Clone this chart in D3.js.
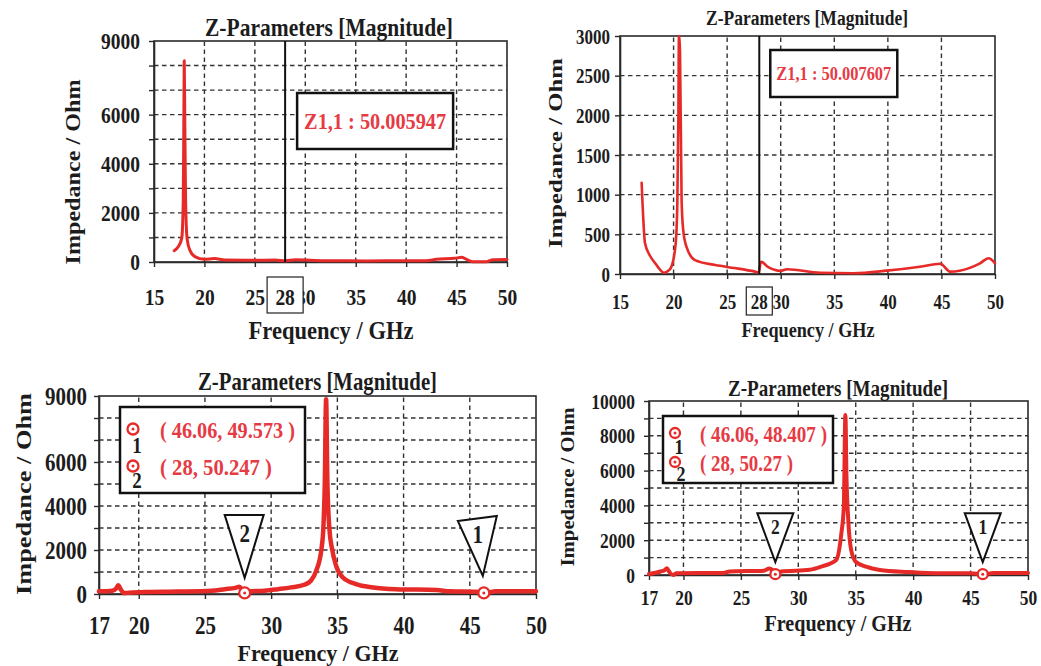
<!DOCTYPE html>
<html><head><meta charset="utf-8">
<script src="https://cdn.jsdelivr.net/npm/d3@7"></script>
<style>
body{margin:0;background:#fff}
</style>
</head><body>
<svg id="c" width="1041" height="666"></svg>
<script>
// ---------- DATA ----------
const titleText = "Z-Parameters [Magnitude]";
const xAxisText = "Frequency / GHz";
const yAxisText = "Impedance / Ohm";

const xTicksA = [15, 20, 25, 30, 35, 40, 45, 50];
const xTicksB = [17, 20, 25, 30, 35, 40, 45, 50];
const yLabels1 = [0, 2000, 4000, 6000, 9000];
const yLabels2 = [0, 500, 1000, 1500, 2000, 2500, 3000];
const yLabels3 = [0, 2000, 4000, 6000, 9000];
const yLabels4 = [0, 2000, 4000, 6000, 8000, 10000];

const cursorFreq = 28;
const p1Readout = "Z1,1 : 50.005947";
const p2Readout = "Z1,1 : 50.007607";

const p1Freq = [17.0, 17.4, 17.75, 17.9, 17.97, 18.0, 18.05, 18.12, 18.2, 18.3, 18.55, 19.05, 20.0, 21.0, 22.0, 25.0, 27.0, 28.0, 29.0, 30.5, 32.0, 36.0, 40.0, 42.0, 43.0, 44.8, 45.5, 46.2, 46.6, 48.0, 48.6, 50.0];
const p1Z    = [460,  620,  960,  2500, 6500,  8200, 6000,  2900,  1500, 900,  490,   220,   110,  140,  80,   70,   80,   50,   90,   70,   50,   45,   50,   50,   110,  150,  190,  60,   15,   15,   90,   100];

const p2Freq = [17.02, 17.1, 17.33, 17.8, 18.27, 18.7, 19.1, 19.5, 19.8, 20.2, 20.35, 20.45, 20.5, 20.6, 20.75, 20.9, 21.2, 22.0, 23.9, 25.7, 27.6, 27.95, 28.15, 28.8, 30.0, 30.6, 33.7, 36.8, 39.9, 43.0, 44.9, 45.8, 46.7, 48.6, 49.4, 50.0];
const p2Z    = [1150,  900,  390,   230,  139,   60,   15,   40,   92,   390,  890,   2000,  3000, 2800, 930,   555,  345,  175,  113,  75,   30,   20,    155,   90,   40,   60,   15,   10,   42,   92,   130,  30,   42,   135,  198,  135];

const p3Freq = [17.0, 18.0, 18.3, 18.45, 18.65, 18.9, 19.3, 20.5, 23.0, 25.5, 26.5, 27.3, 27.6, 27.8, 28.0, 28.3, 29.5, 30.5, 31.5, 32.5, 33.0, 33.4, 33.8, 33.95, 34.05, 34.15, 34.25, 34.4, 34.6, 34.9, 35.4, 36.4, 37.7, 39.4, 42.5, 43.5, 45.5, 46.06, 47.0, 50.0];
const p3Z    = [120,  150,  250,  400,   200,   40,   60,   90,   110,  150,  220,  280,  330,  200,  50,   120,  150,  220,  300,  420,  600,  1050, 2050, 3100,  5000,  8850,  5000,  2950, 2050, 1290, 760,  450,  300,  220,  180,  120,  100,  50,    120,  130];

const p4Freq = [17.0, 18.0, 18.4, 18.55, 18.8, 19.1, 19.4, 23.5, 24.0, 27.0, 27.5, 27.8, 28.0, 28.5, 31.0, 32.0, 33.3, 33.75, 33.96, 34.1, 34.2, 34.35, 34.6, 35.0, 35.9, 37.1, 39.6, 42.0, 45.0, 46.06, 47.0, 50.0];
const p4Z    = [60,   200,  300,  385,   150,  0,    100,  120,  200,  250,  380,  250,  50,   200,  300,  480,  860,  2400,  3900,  9200, 5500, 3160,  1440, 765,  480,  290,  170,  100,  100,  48,    110,  120];

const p3MarkerId = ["1", "2"];
const p3MarkerF  = [46.06, 28];
const p3MarkerZ  = [49.573, 50.247];
const p4MarkerId = ["1", "2"];
const p4MarkerF  = [46.06, 28];
const p4MarkerZ  = [48.407, 50.27];

// ---------- DRAWING ----------
const svg = d3.select("#c");
const SY = 1.2;
const FONT = "Liberation Serif";
const RED = "#e52a28";
const TXTRED = "#e63a44";
const INK = "#1c1c1c";

function sText(g, x, y, str, size, o = {}) {
  const t = g.append("text")
    .attr("transform", `translate(${x},${y}) scale(1,${o.sy || SY})`)
    .attr("text-anchor", o.anchor || "middle")
    .attr("dominant-baseline", "central")
    .attr("font-family", FONT).attr("font-weight", "bold")
    .attr("font-size", size)
    .attr("fill", o.fill || INK)
    .text(str);
  if (o.len) t.attr("textLength", o.len).attr("lengthAdjust", "spacingAndGlyphs");
  return t;
}

const panels = [
  { freq: p1Freq, z: p1Z, xDom: [15, 50], yDom: [0, 9000], yStep: 1000, xr: [154, 507], yr: [262, 41],
    xTicks: xTicksA, yLabels: yLabels1, tf: 19.5, yOff: 14, xOff: 35, lw: 3,
    title: [329, 27, 21.5, 248], xT: [331, 330, 21, 165], yT: [72, 172, 22, 185],
    readout: p1Readout, readBox: [12, 52, 156, 56], readFont: 20, readLen: 142, cBox: [36, 36, 33] },
  { freq: p2Freq, z: p2Z, xDom: [15, 50], yDom: [0, 3000], yStep: 500, xr: [620, 995], yr: [274, 36],
    xTicks: xTicksA, yLabels: yLabels2, tf: 17, yOff: 10, xOff: 28, lw: 2.6,
    title: [807, 18, 17.5, 202], xT: [808, 329, 18, 133], yT: [555, 153, 19, 190],
    readout: p2Readout, readBox: [11, 14, 127, 47], readFont: 16.5, readLen: 115, cBox: [26, 28, 27] },
  { freq: p3Freq, z: p3Z, xDom: [17, 50], yDom: [0, 9000], yStep: 1000, xr: [99, 536], yr: [594, 396],
    xTicks: xTicksB, yLabels: yLabels3, tf: 21, yOff: 12, xOff: 31, lw: 4.5,
    title: [317.5, 382, 20.8, 239], xT: [318, 653, 20, 161], yT: [23, 494, 22, 202],
    markers: { id: p3MarkerId, f: p3MarkerF, z: p3MarkerZ }, mr: 5.5,
    tri: [ { tl: [-26, -72], tr: [13, -77], ap: [-1, -17], lb: [-6, -59] },
           { tl: [-20, -78], tr: [19, -78], ap: [0, -15], lb: [0, -60] } ],
    leg: { dx: 21, dy: 11, w: 185, h: 86, sx: 13, rows: [22, 59], tx: 40, font: 20, lens: [135, 112],
           num: [[4, 16], [4, 14]] } },
  { freq: p4Freq, z: p4Z, xDom: [17, 50], yDom: [0, 10000], yStep: 1000, xr: [649, 1028], yr: [575, 401],
    xTicks: xTicksB, yLabels: yLabels4, tf: 17.5, yOff: 14, xOff: 23, lw: 4,
    title: [838, 388, 19, 220], xT: [838, 623, 20, 147], yT: [568, 487, 18, 159],
    markers: { id: p4MarkerId, f: p4MarkerF, z: p4MarkerZ }, mr: 5,
    tri: [ { tl: [-18, -61], tr: [18, -61], ap: [0, -12], lb: [0, -47] },
           { tl: [-18, -61], tr: [18, -61], ap: [0, -12], lb: [0, -47] } ],
    leg: { dx: 14, dy: 15, w: 170, h: 67, sx: 12, rows: [17, 46], tx: 37, font: 19, lens: [127, 93],
           num: [[4, 13], [6, 11]] } }
];

function markerSymbol(g, cx, cy, r) {
  g.append("circle").attr("cx", cx).attr("cy", cy).attr("r", r)
    .attr("fill", "#fff").attr("stroke", RED).attr("stroke-width", 2.3);
  g.append("circle").attr("cx", cx).attr("cy", cy).attr("r", 1.5).attr("fill", RED);
}

panels.forEach(c => {
  const g = svg.append("g");
  const x = d3.scaleLinear().domain(c.xDom).range(c.xr);
  const y = d3.scaleLinear().domain(c.yDom).range(c.yr);
  const grid = d3.range(c.yDom[0], c.yDom[1] + 1, c.yStep);

  g.selectAll(".vg").data(c.xTicks.slice(1, -1)).join("line")
    .attr("x1", d => x(d)).attr("x2", d => x(d)).attr("y1", c.yr[0]).attr("y2", c.yr[1])
    .attr("stroke", "#333").attr("stroke-width", 1.4).attr("stroke-dasharray", "4.5,3.5");
  g.selectAll(".hg").data(grid.slice(1, -1)).join("line")
    .attr("x1", c.xr[0]).attr("x2", c.xr[1]).attr("y1", d => y(d)).attr("y2", d => y(d))
    .attr("stroke", "#333").attr("stroke-width", 1.4).attr("stroke-dasharray", "4.5,3.5");

  g.append("rect").attr("x", c.xr[0]).attr("y", c.yr[1])
    .attr("width", c.xr[1] - c.xr[0]).attr("height", c.yr[0] - c.yr[1])
    .attr("fill", "none").attr("stroke", "#2a2a2a").attr("stroke-width", 1.6);

  const xa = g.append("g").attr("transform", `translate(0,${c.yr[0]})`)
    .call(d3.axisBottom(x).tickValues(c.xTicks).tickSize(5).tickSizeOuter(0).tickFormat(d3.format("d")));
  const ya = g.append("g").attr("transform", `translate(${c.xr[0]},0)`)
    .call(d3.axisLeft(y).tickValues(grid).tickSize(5).tickSizeOuter(0)
      .tickFormat(d => c.yLabels.includes(d) ? d3.format("d")(d) : ""));
  [xa, ya].forEach(a => {
    a.attr("font-family", FONT).attr("font-size", c.tf);
    a.select(".domain").attr("stroke", "#2a2a2a").attr("stroke-width", 1.6);
    a.selectAll(".tick line").attr("stroke", "#2a2a2a").attr("stroke-width", 1.4);
    a.selectAll("text").attr("font-family", FONT).attr("font-weight", "bold")
      .attr("font-size", c.tf).attr("fill", INK)
      .attr("dominant-baseline", "central").attr("dy", null);
  });
  xa.selectAll("text").attr("y", null).attr("transform", `translate(0,${c.xOff}) scale(1,${SY})`);
  ya.selectAll("text").attr("x", null).attr("transform", `translate(${-c.yOff},0) scale(1,${SY})`)
    .attr("text-anchor", "end");

  sText(g, c.title[0], c.title[1], titleText, c.title[2], { len: c.title[3] });
  sText(g, c.xT[0], c.xT[1], xAxisText, c.xT[2], { len: c.xT[3] });
  g.append("text")
    .attr("transform", `translate(${c.yT[0]},${c.yT[1]}) rotate(-90)`)
    .attr("text-anchor", "middle").attr("dominant-baseline", "central")
    .attr("font-family", FONT).attr("font-weight", "bold")
    .attr("font-size", c.yT[2]).attr("fill", INK)
    .attr("textLength", c.yT[3]).attr("lengthAdjust", "spacingAndGlyphs")
    .text(yAxisText);

  const pts = c.freq.map((f, i) => [f, c.z[i]]);
  g.append("path").datum(pts)
    .attr("d", d3.line().curve(d3.curveMonotoneX).x(d => x(d[0])).y(d => y(d[1])))
    .attr("fill", "none").attr("stroke", RED).attr("stroke-width", c.lw)
    .attr("stroke-linejoin", "round").attr("stroke-linecap", "round");

  if (c.readout) {
    const cx = x(cursorFreq);
    g.append("line").attr("x1", cx).attr("x2", cx).attr("y1", c.yr[0]).attr("y2", c.yr[1])
      .attr("stroke", "#111").attr("stroke-width", 2);
    const b = c.readBox;
    g.append("rect").attr("x", cx + b[0]).attr("y", c.yr[1] + b[1]).attr("width", b[2]).attr("height", b[3])
      .attr("fill", "#fff").attr("stroke", "#111").attr("stroke-width", 2.5);
    sText(g, cx + b[0] + b[2] / 2, c.yr[1] + b[1] + b[3] / 2, c.readout, c.readFont,
      { fill: TXTRED, len: c.readLen });
    const cb = c.cBox;
    g.append("rect").attr("x", cx - cb[0] / 2).attr("y", c.yr[0] + cb[2] - cb[1] / 2)
      .attr("width", cb[0]).attr("height", cb[1])
      .attr("fill", "#fff").attr("stroke", "#222").attr("stroke-width", 1.2);
    sText(g, cx, c.yr[0] + c.xOff, String(cursorFreq), c.tf);
  }

  if (c.markers) {
    const m = c.markers;
    m.f.forEach((f, i) => {
      const mx = x(f), my = y(m.z[i]);
      const t = c.tri[i];
      g.append("path")
        .attr("d", `M${mx + t.tl[0]},${my + t.tl[1]}L${mx + t.tr[0]},${my + t.tr[1]}L${mx + t.ap[0]},${my + t.ap[1]}Z`)
        .attr("fill", "#fff").attr("stroke", "#111").attr("stroke-width", 2).attr("stroke-linejoin", "miter");
      sText(g, mx + t.lb[0], my + t.lb[1], m.id[i], c.tf);
      markerSymbol(g, mx, my, c.mr);
    });
    const L = c.leg;
    const lx = c.xr[0] + L.dx, ly = c.yr[1] + L.dy;
    g.append("rect").attr("x", lx).attr("y", ly).attr("width", L.w).attr("height", L.h)
      .attr("fill", "#fff").attr("stroke", "#111").attr("stroke-width", 2.5);
    m.id.forEach((id, i) => {
      const ry = ly + L.rows[i];
      markerSymbol(g, lx + L.sx, ry, c.mr);
      sText(g, lx + L.sx + L.num[i][0], ry + L.num[i][1], id, L.font - 1);
      sText(g, lx + L.tx, ry + 1, `( ${m.f[i]}, ${m.z[i]} )`, L.font,
        { anchor: "start", fill: TXTRED, len: L.lens[i] });
    });
  }
});
</script>
</body></html>
